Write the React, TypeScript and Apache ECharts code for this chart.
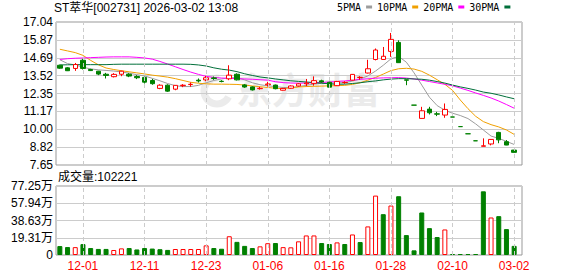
import React, { useEffect, useRef } from 'react';
import * as echarts from 'echarts';

const titleText = 'ST萃华[002731] 2026-03-02 13:08';
const volumeLabel = '成交量';
const latestVolume = 102221;
const watermarkText = '东方财富';

const dates = [
  '11-26', '11-27', '11-28', '12-01', '12-02', '12-03', '12-04', '12-05', '12-08', '12-09',
  '12-10', '12-11', '12-12', '12-15', '12-16', '12-17', '12-18', '12-19', '12-22', '12-23',
  '12-24', '12-25', '12-26', '12-29', '12-30', '12-31', '01-05', '01-06', '01-07', '01-08',
  '01-09', '01-12', '01-13', '01-14', '01-15', '01-16', '01-19', '01-20', '01-21', '01-22',
  '01-23', '01-26', '01-27', '01-28', '01-29', '01-30', '02-02', '02-03', '02-04', '02-05',
  '02-09', '02-10', '02-11', '02-12', '02-13', '02-24', '02-25', '02-26', '02-27', '03-02',
];

const opens = [
  14.20, 14.03, 13.99, 14.53, 13.92, 13.81, 13.61, 13.45, 13.61, 13.61,
  13.46, 13.40, 13.20, 12.68, 12.89, 12.63, 12.86, 12.93, 13.22, 13.24,
  13.37, 13.15, 13.31, 13.61, 12.91, 12.78, 12.66, 12.92, 12.90, 12.56,
  12.69, 12.84, 12.98, 13.01, 13.18, 13.08, 12.86, 13.06, 13.22, 13.39,
  13.69, 14.58, 14.58, 15.11, 15.70, 13.24, 11.58, 10.71, 11.32, 11.01,
  10.93, 10.80, 10.17, 9.70, 9.24, 8.88, 9.03, 9.79, 9.18, 8.63,
];
const closes = [
  14.01, 13.84, 14.25, 13.99, 13.85, 13.62, 13.53, 13.60, 13.81, 13.49,
  13.38, 13.09, 12.99, 12.89, 12.50, 12.88, 12.89, 12.95, 13.17, 13.38,
  13.33, 13.13, 13.55, 13.24, 12.77, 12.58, 12.69, 12.97, 12.66, 12.68,
  12.84, 12.98, 13.03, 13.19, 13.10, 12.76, 13.14, 13.08, 13.60, 13.41,
  13.97, 15.20, 14.79, 15.90, 14.37, 13.22, 11.58, 11.21, 11.08, 10.99,
  11.30, 10.80, 10.17, 9.70, 9.24, 8.91, 9.33, 9.30, 8.96, 8.48,
];
const lows = [
  13.97, 13.82, 13.83, 13.92, 13.82, 13.55, 13.33, 13.40, 13.48, 13.42,
  13.29, 13.00, 12.92, 12.63, 12.45, 12.56, 12.76, 12.79, 13.07, 13.15,
  13.24, 13.08, 13.22, 13.20, 12.72, 12.54, 12.60, 12.80, 12.62, 12.54,
  12.66, 12.80, 12.82, 12.86, 13.05, 12.72, 12.84, 12.98, 13.20, 13.25,
  13.66, 14.52, 14.55, 14.75, 14.35, 12.89, 11.58, 10.70, 10.97, 10.86,
  10.75, 10.80, 10.17, 9.70, 9.24, 8.88, 8.94, 9.08, 8.95, 8.47,
];
const highs = [
  14.24, 14.08, 14.35, 14.62, 13.97, 13.83, 13.70, 13.68, 13.84, 13.68,
  13.55, 13.45, 13.30, 12.95, 12.95, 12.90, 12.96, 13.07, 13.33, 13.50,
  13.46, 13.22, 14.20, 13.67, 12.97, 12.82, 12.78, 13.11, 12.93, 12.70,
  12.88, 13.02, 13.30, 13.47, 13.25, 13.12, 13.17, 13.15, 13.62, 13.48,
  14.56, 15.30, 15.40, 16.32, 15.84, 13.25, 11.58, 11.47, 11.47, 11.14,
  11.69, 10.80, 10.17, 9.70, 9.24, 9.40, 9.35, 9.83, 9.29, 8.64,
];
const prevClose = 14.2;

const volumes = [
  100000, 89000, 88000, 122000, 78000, 68000, 68000, 56000, 74000, 78000,
  62000, 78000, 72000, 65000, 57000, 67000, 67000, 67000, 67000, 108000,
  78000, 70000, 210000, 147000, 102000, 78000, 97000, 132000, 134000, 88000,
  86000, 153000, 219000, 219000, 134000, 123000, 141000, 123000, 230000, 145000,
  320000, 665000, 457000, 554000, 658000, 223000, 52000, 476000, 301000, 201000,
  286000, 11000, 11000, 11000, 11000, 713000, 420000, 435000, 290000, 102221,
];

const ma5 = [
  14.56, 14.31, 14.22, 14.07, 13.96, 13.90, 13.86, 13.82, 13.76, 13.68,
  13.58, 13.50, 13.34, 13.18, 13.00, 12.86, 12.80, 12.80, 12.88, 13.05,
  13.20, 13.30, 13.38, 13.38, 13.24, 13.05, 12.92, 12.85, 12.80, 12.74,
  12.74, 12.80, 12.88, 12.96, 13.02, 13.02, 13.04, 13.06, 13.16, 13.30,
  13.50, 13.82, 14.20, 14.62, 14.78, 14.40, 13.70, 12.90, 12.10, 11.55,
  11.25, 11.05, 10.90, 10.70, 10.35, 9.95, 9.55, 9.40, 9.20, 9.00,
];
const ma10 = [
  15.25, 15.14, 15.03, 14.85, 14.52, 14.23, 14.02, 13.92, 13.84, 13.77,
  13.70, 13.63, 13.55, 13.49, 13.42, 13.32, 13.20, 13.08, 13.02, 12.98,
  12.96, 12.96, 12.95, 12.94, 12.90, 12.84, 12.79, 12.74, 12.69, 12.66,
  12.72, 12.77, 12.80, 12.82, 12.83, 12.85, 12.86, 12.88, 12.94, 13.05,
  13.22, 13.40, 13.62, 13.85, 13.97, 14.00, 13.95, 13.80, 13.55, 13.25,
  12.95, 12.55, 11.92, 11.35, 10.85, 10.50, 10.30, 10.15, 9.95, 9.66,
];
const ma20 = [
  14.58, 14.63, 14.66, 14.68, 14.70, 14.72, 14.74, 14.75, 14.75, 14.75,
  14.72, 14.68, 14.60, 14.45, 14.28, 14.10, 13.92, 13.75, 13.60, 13.47,
  13.40, 13.36, 13.34, 13.32, 13.30, 13.28, 13.25, 13.22, 13.12, 13.06,
  13.03, 13.02, 13.03, 13.05, 13.07, 13.10, 13.13, 13.17, 13.22, 13.27,
  13.31, 13.35, 13.37, 13.38, 13.39, 13.36, 13.30, 13.22, 13.13, 13.04,
  12.95, 12.85, 12.70, 12.55, 12.38, 12.22, 12.05, 11.85, 11.62, 11.38,
];
const ma30 = [
  14.22, 14.23, 14.24, 14.24, 14.24, 14.24, 14.24, 14.26, 14.27, 14.27,
  14.27, 14.27, 14.27, 14.27, 14.27, 14.27, 14.27, 14.26, 14.22, 14.15,
  14.03, 13.94, 13.88, 13.78, 13.64, 13.53, 13.43, 13.37, 13.30, 13.24,
  13.18, 13.14, 13.10, 13.06, 13.02, 12.98, 12.95, 12.96, 13.00, 13.05,
  13.12, 13.17, 13.24, 13.29, 13.32, 13.32, 13.30, 13.28, 13.22, 13.13,
  13.03, 12.90, 12.78, 12.68, 12.57, 12.44, 12.36, 12.25, 12.12, 12.00,
];

const priceTicks = ['7.65', '8.82', '10.00', '11.17', '12.35', '13.52', '14.69', '15.87', '17.04'];
const priceMin = 7.65;
const priceMax = 17.04;
const volumeTicks = ['0', '19.31万', '38.63万', '57.94万', '77.25万'];
const volumeMax = 772500;
const dashedDates = ['12-01', '12-11', '12-23', '01-06', '01-16', '01-28', '02-10', '03-02'];
const maNames = ['5PMA', '10PMA', '20PMA', '30PMA'];

const UP = '#ff0000';
const DOWN = '#008000';
const MA_COLORS = ['#9c9c9c', '#f0a000', '#ff00ff', '#006f3a'];
const FONT = '"Liberation Sans", Arial, "Noto Sans CJK SC", sans-serif';
const WATERMARK = '#ebebeb';

export default function App() {
  const ref = useRef<HTMLDivElement>(null);

  useEffect(() => {
    const chart = echarts.init(ref.current as HTMLDivElement, null, { renderer: 'svg' });

    const candleData = dates.map((_, i) => [opens[i], closes[i], lows[i], highs[i]]);
    const volumeData = volumes.map((v, i) => {
      const before = i === 0 ? prevClose : closes[i - 1];
      const up = closes[i] >= before;
      return {
        value: v,
        itemStyle: {
          color: up ? '#ffffff' : DOWN,
          borderColor: up ? UP : DOWN,
          borderWidth: 1,
        },
      };
    });
    const dashed = {
      silent: true,
      symbol: 'none',
      label: { show: false },
      lineStyle: { color: '#cccccc', type: [4, 3], width: 1 },
      data: dashedDates.map((d) => ({ xAxis: d })),
    };
    const maSeries = [ma5, ma10, ma20, ma30].map((arr, k) => ({
      name: maNames[k],
      type: 'line',
      xAxisIndex: 1,
      yAxisIndex: 1,
      data: arr,
      symbol: 'none',
      smooth: false,
      color: MA_COLORS[k],
      lineStyle: { width: 1, color: MA_COLORS[k] },
      z: 2,
    }));

    const option: any = {
      animation: false,
      backgroundColor: '#ffffff',
      textStyle: { fontFamily: FONT },
      legend: {
        data: maNames,
        left: 337,
        top: 2,
        padding: 0,
        itemWidth: 6,
        itemHeight: 3,
        itemGap: 5,
        align: 'right',
        icon: 'rect',
        selectedMode: false,
        textStyle: { fontFamily: '"DejaVu Sans Mono", monospace', fontSize: 10, color: '#000' },
      },
      grid: [
        { left: 56, top: 22, width: 466, height: 143, show: true, borderColor: '#999999', borderWidth: 1, backgroundColor: 'transparent' },
        { left: 56, top: 22, width: 462, height: 143 },
        { left: 56, top: 186, width: 466, height: 69, show: true, borderColor: '#999999', borderWidth: 1, backgroundColor: 'transparent' },
        { left: 56, top: 186, width: 462, height: 69 },
      ],
      xAxis: [
        { gridIndex: 0, type: 'value', min: 0, max: 1, show: false },
        {
          gridIndex: 1, type: 'category', data: dates, boundaryGap: true,
          axisLine: { show: false }, axisTick: { show: false }, axisLabel: { show: false }, splitLine: { show: false },
        },
        { gridIndex: 2, type: 'value', min: 0, max: 1, show: false },
        {
          gridIndex: 3, type: 'category', data: dates, boundaryGap: true,
          axisLine: { show: false }, axisTick: { show: false }, splitLine: { show: false },
          axisLabel: {
            color: UP, fontSize: 12, fontFamily: FONT, margin: 5,
            interval: (index: number) => (index - 3) % 8 === 0,
          },
        },
      ],
      yAxis: [
        {
          gridIndex: 0, type: 'value', min: 0, max: priceTicks.length - 1, interval: 1,
          axisLine: { show: false }, axisTick: { show: false },
          splitLine: { show: true, lineStyle: { color: '#cccccc', width: 1 } },
          axisLabel: {
            color: '#000', fontSize: 12, fontFamily: FONT, margin: 3,
            formatter: (v: number) => priceTicks[Math.round(v)] ?? '',
          },
        },
        { gridIndex: 1, type: 'value', min: priceMin, max: priceMax, show: false, splitLine: { show: false } },
        {
          gridIndex: 2, type: 'value', min: 0, max: volumeTicks.length - 1, interval: 1,
          axisLine: { show: false }, axisTick: { show: false },
          splitLine: { show: true, lineStyle: { color: '#cccccc', width: 1 } },
          axisLabel: {
            color: '#000', fontSize: 12, fontFamily: FONT, margin: 3,
            formatter: (v: number) => volumeTicks[Math.round(v)] ?? '',
          },
        },
        { gridIndex: 3, type: 'value', min: 0, max: volumeMax, show: false, splitLine: { show: false } },
      ],
      graphic: [
        {
          type: 'arc', z: -1, silent: true,
          shape: { cx: 217, cy: 91, r: 13, startAngle: Math.PI * 0.15, endAngle: Math.PI * 1.55 },
          style: { stroke: WATERMARK, lineWidth: 7, fill: 'none' },
        },
        {
          type: 'text', left: 236, top: 70, z: -1, silent: true,
          style: { text: watermarkText, fill: WATERMARK, font: 'bold 36px "Noto Sans CJK SC", sans-serif' },
        },
        {
          type: 'text', left: 54, top: 2,
          style: { text: titleText, fill: '#000', font: '12px "Liberation Sans", Arial, "Noto Sans CJK SC", sans-serif' },
        },
        {
          type: 'text', left: 58, top: 171,
          style: { text: `${volumeLabel}:${latestVolume}`, fill: '#000', font: '12px "Liberation Sans", Arial, "Noto Sans CJK SC", sans-serif' },
        },
      ],
      series: [
        ...maSeries,
        {
          name: 'K',
          type: 'candlestick',
          xAxisIndex: 1,
          yAxisIndex: 1,
          data: candleData,
          barWidth: 5,
          itemStyle: {
            color: '#ffffff',
            color0: DOWN,
            borderColor: UP,
            borderColor0: DOWN,
            borderColorDoji: DOWN,
            borderWidth: 1,
          },
          markLine: dashed,
          z: 3,
        },
        {
          name: 'VOL',
          type: 'bar',
          xAxisIndex: 3,
          yAxisIndex: 3,
          data: volumeData,
          barWidth: 5,
          markLine: dashed,
        },
      ],
    };

    chart.setOption(option);
    return () => chart.dispose();
  }, []);

  return (
    <div
      ref={ref}
      style={{ position: 'absolute', left: 0, top: 0, width: 578, height: 276 }}
    />
  );
}
